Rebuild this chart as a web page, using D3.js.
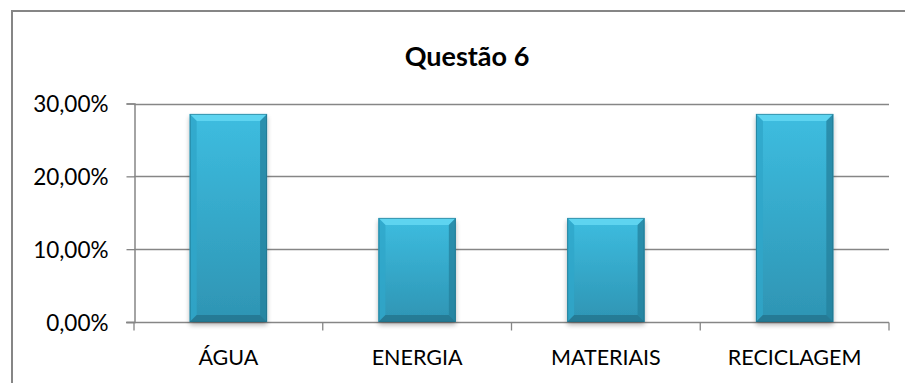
<!DOCTYPE html>
<html>
<head>
<meta charset="utf-8">
<script src="https://cdn.jsdelivr.net/npm/d3@7"></script>
<style>
  html, body { margin: 0; padding: 0; background: #fff; }
  svg { display: block; }
  text { font-family: Lato, "Open Sans", "Liberation Sans", sans-serif; fill: #000; }
</style>
</head>
<body>
<svg id="chart" width="905" height="383"></svg>
<script>
const title = "Questão 6";
const categories = ["ÁGUA", "ENERGIA", "MATERIAIS", "RECICLAGEM"];
const values = [0.2857, 0.1429, 0.1429, 0.2857];
const yTicks = [0, 0.1, 0.2, 0.3];

const svg = d3.select("#chart");
const W = 905, H = 383;
const plot = { left: 134, right: 889, top: 103.5, bottom: 322 };

// chart frame
svg.append("rect")
  .attr("x", 12).attr("y", 11)
  .attr("width", W).attr("height", H)
  .attr("fill", "#fff").attr("stroke", "#868686").attr("stroke-width", 2);

svg.append("text")
  .attr("x", 467).attr("y", 66)
  .attr("text-anchor", "middle")
  .style("font-weight", "bold").style("font-size", "27px")
  .text(title);

const x = d3.scaleBand().domain(categories).range([plot.left, plot.right]).paddingInner(0.59).paddingOuter(0.295);
const y = d3.scaleLinear().domain([0, 0.3]).range([plot.bottom, plot.top]);
const pct = v => d3.format(".2f")(v * 100).replace(".", ",") + "%";

// gridlines
svg.append("g").selectAll("line").data(yTicks.slice(1)).join("line")
  .attr("x1", plot.left).attr("x2", plot.right)
  .attr("y1", d => Math.round(y(d)) + 0.5).attr("y2", d => Math.round(y(d)) + 0.5)
  .attr("stroke", "#868686").attr("stroke-width", 1.3);

// y axis
const yAxis = svg.append("g")
  .attr("transform", `translate(${plot.left + 0.5},0)`)
  .call(d3.axisLeft(y).tickValues(yTicks).tickFormat(pct).tickSize(8).tickPadding(18));
yAxis.select(".domain").attr("stroke", "#868686").attr("stroke-width", 1.5);
yAxis.selectAll(".tick line").attr("stroke", "#868686").attr("stroke-width", 1.3);
yAxis.selectAll(".tick text").style("font-size", "22.5px").attr("fill", "#000").attr("dy", "0.36em");

// x axis with ticks at band boundaries
const xAxisG = svg.append("g").attr("transform", `translate(0,${Math.round(plot.bottom) + 0.5})`);
xAxisG.append("line").attr("x1", plot.left - 8).attr("x2", plot.right)
  .attr("stroke", "#868686").attr("stroke-width", 1.5);
const bounds = d3.range(categories.length + 1).map(i => plot.left + i * (plot.right - plot.left) / categories.length);
xAxisG.selectAll("line.t").data(bounds).join("line").attr("class", "t")
  .attr("x1", d => d).attr("x2", d => d).attr("y1", 0).attr("y2", 8)
  .attr("stroke", "#868686").attr("stroke-width", 1.3);
xAxisG.selectAll("text").data(categories).join("text")
  .attr("x", d => x(d) + x.bandwidth() / 2).attr("y", 42.5)
  .attr("text-anchor", "middle").style("font-size", "21.5px")
  .text(d => d);

// bar styling
const defs = svg.append("defs");
const body = defs.append("linearGradient").attr("id", "body").attr("x1", 0).attr("y1", 0).attr("x2", 0).attr("y2", 1);
body.append("stop").attr("offset", "0%").attr("stop-color", "#3dbde0");
body.append("stop").attr("offset", "100%").attr("stop-color", "#2e94b3");
const shadow = defs.append("filter").attr("id", "shadow").attr("x", "-20%").attr("y", "-10%").attr("width", "140%").attr("height", "130%");
shadow.append("feGaussianBlur").attr("in", "SourceAlpha").attr("stdDeviation", 2.5);
shadow.append("feOffset").attr("dx", 0).attr("dy", 3).attr("result", "b");
shadow.append("feComponentTransfer").append("feFuncA").attr("type", "linear").attr("slope", 0.3);
const m = shadow.append("feMerge");
m.append("feMergeNode");
m.append("feMergeNode").attr("in", "SourceGraphic");

const bev = 7;
const bars = svg.append("g").selectAll("g").data(categories.map((c, i) => ({ c, v: values[i] }))).join("g");
bars.each(function (d) {
  const g = d3.select(this);
  const x0 = x(d.c), x1 = x0 + x.bandwidth(), y0 = y(d.v), y1 = y(0);
  g.append("rect").attr("x", x0).attr("y", y0).attr("width", x1 - x0).attr("height", y1 - y0)
    .attr("fill", "url(#body)").attr("filter", "url(#shadow)");
  // top bevel
  g.append("path").attr("d", `M${x0},${y0}L${x1},${y0}L${x1 - bev},${y0 + bev}L${x0 + bev},${y0 + bev}Z`).attr("fill", "#5ed4f0");
  // left bevel
  g.append("path").attr("d", `M${x0},${y0}L${x0 + bev},${y0 + bev}L${x0 + bev},${y1 - bev}L${x0},${y1}Z`).attr("fill", "#2fa6c9").attr("opacity", 0.8);
  // right bevel
  g.append("path").attr("d", `M${x1},${y0}L${x1 - bev},${y0 + bev}L${x1 - bev},${y1 - bev}L${x1},${y1}Z`).attr("fill", "#24809c").attr("opacity", 0.75);
  // bottom bevel
  g.append("path").attr("d", `M${x0},${y1}L${x0 + bev},${y1 - bev}L${x1 - bev},${y1 - bev}L${x1},${y1}Z`).attr("fill", "#226f88").attr("opacity", 0.7);
  g.append("rect").attr("x", x0 + 0.5).attr("y", y0 + 0.5).attr("width", x1 - x0 - 1).attr("height", y1 - y0 - 1)
    .attr("fill", "none").attr("stroke", "#1f6e86").attr("stroke-width", 1).attr("opacity", 0.6);
});
</script>
</body>
</html>
